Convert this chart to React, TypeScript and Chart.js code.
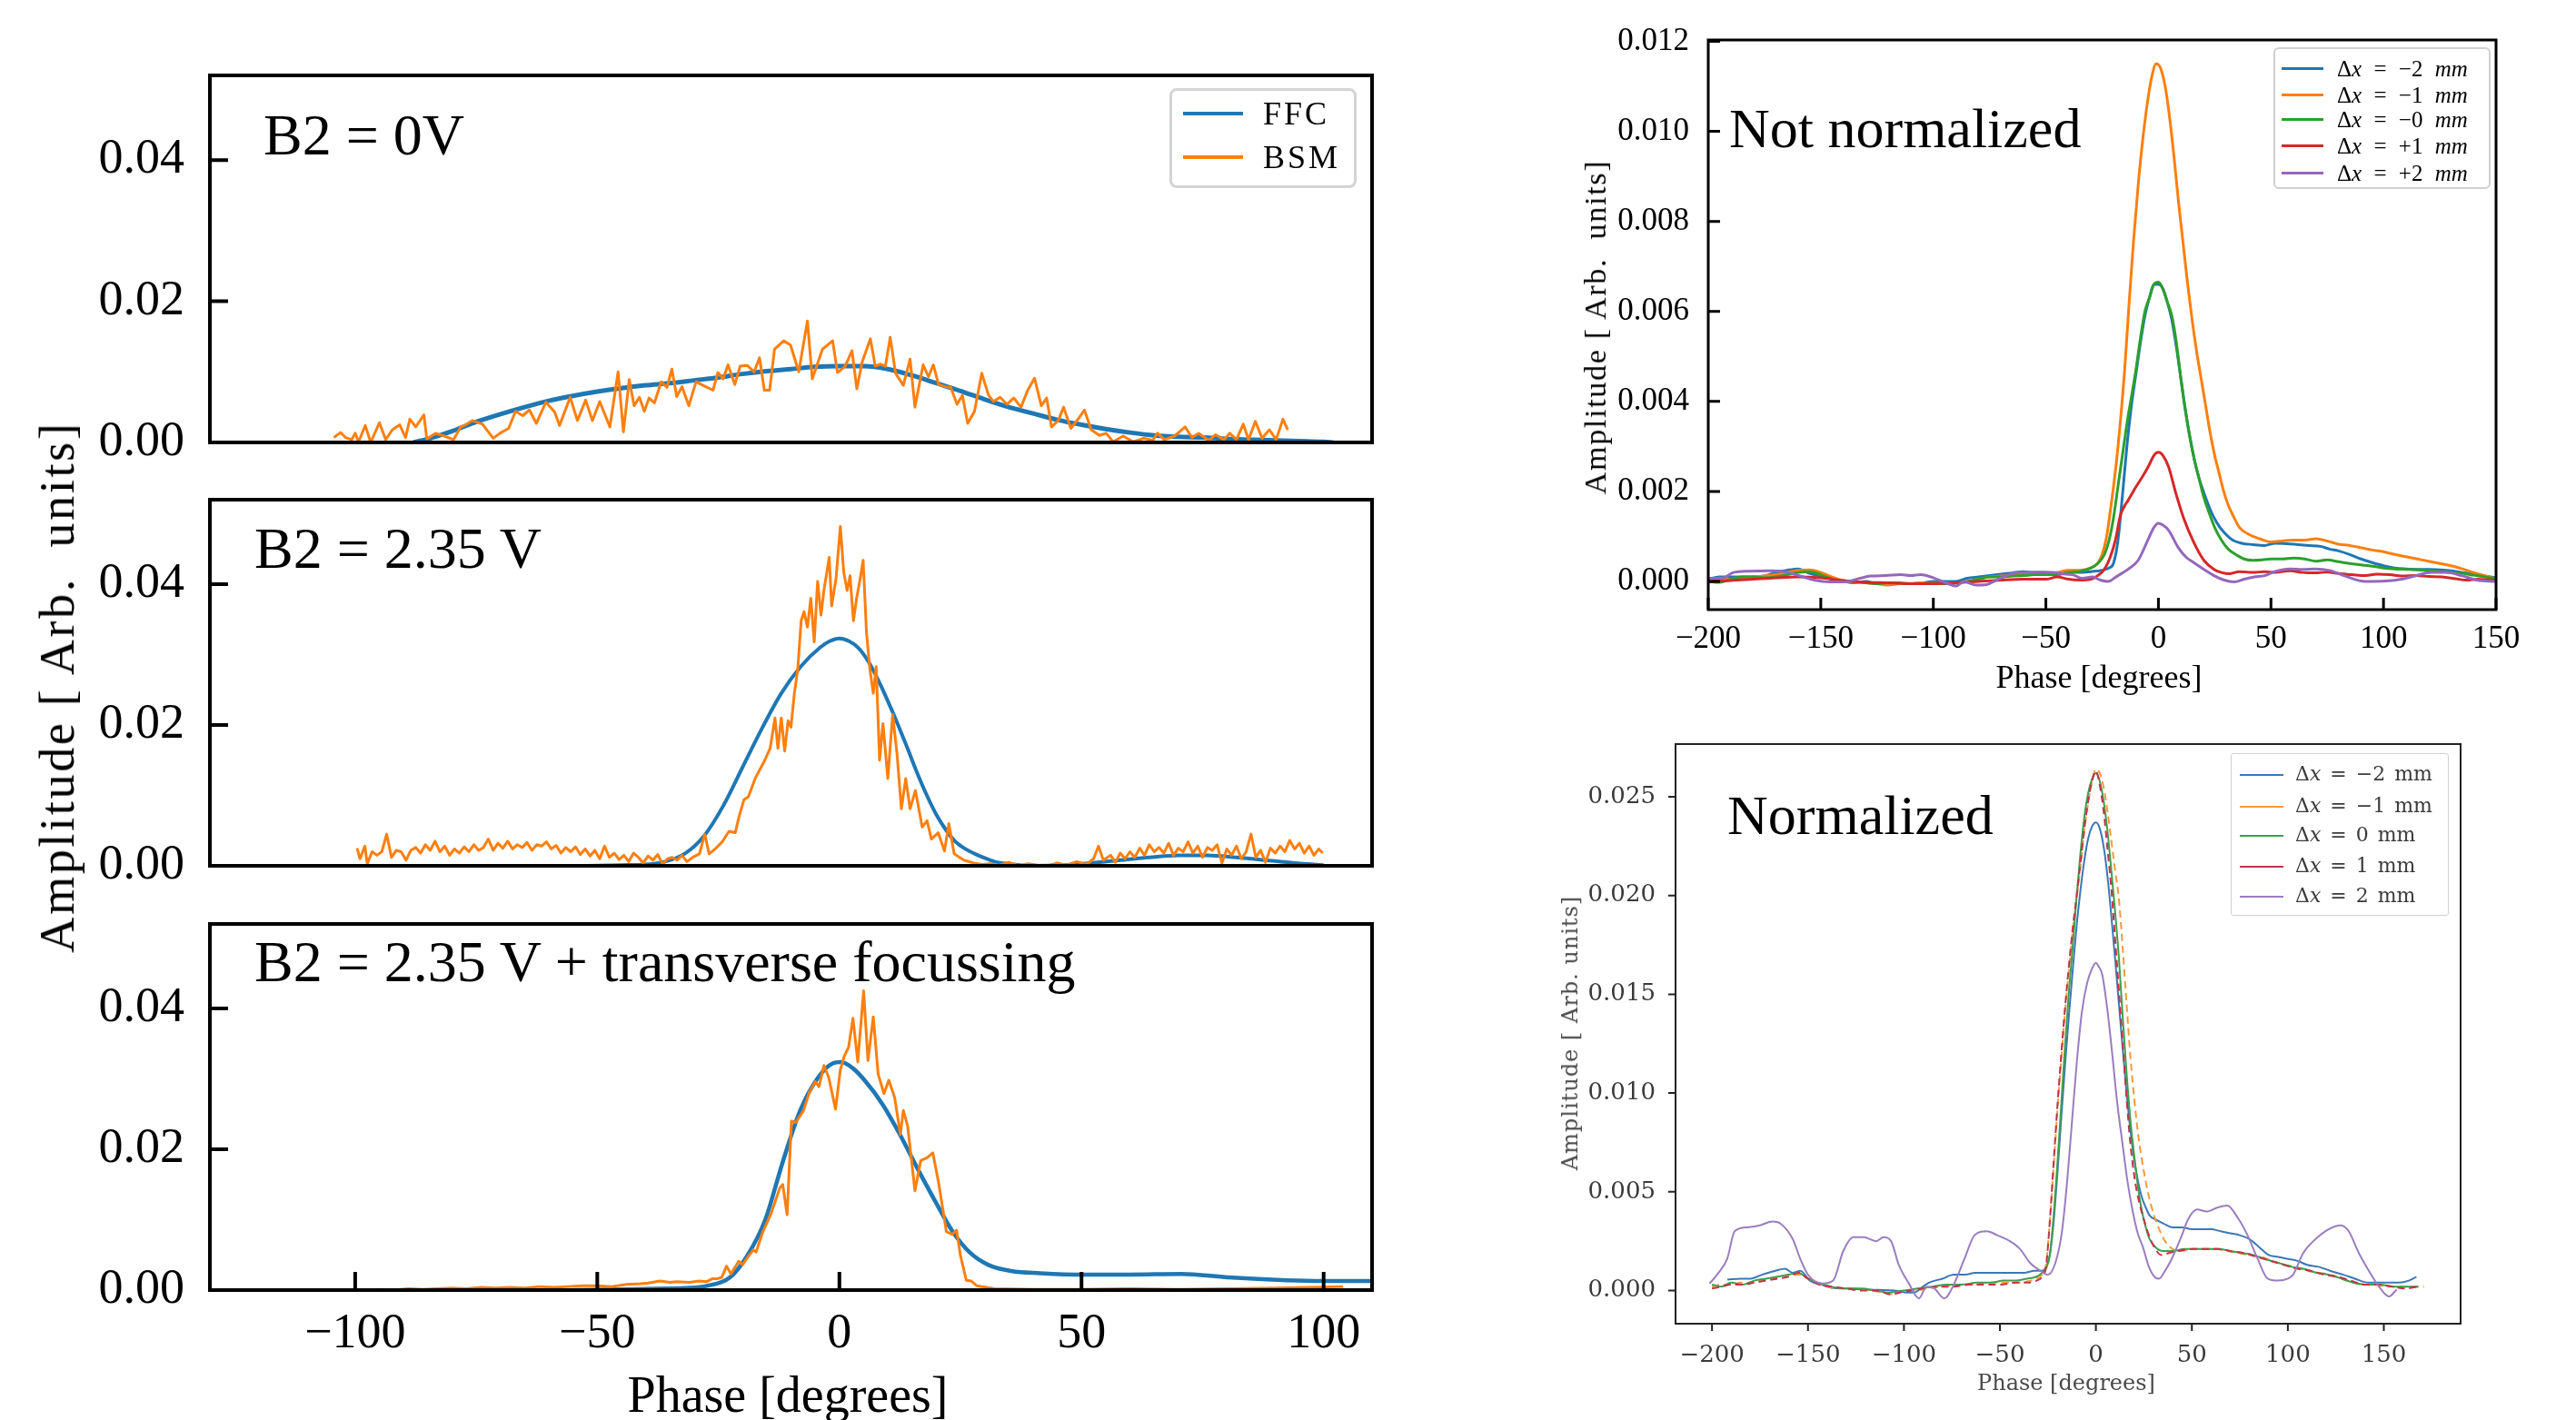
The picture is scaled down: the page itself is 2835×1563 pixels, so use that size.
import React, { useEffect, useRef } from 'react';
import { Chart, registerables } from 'chart.js';

Chart.register(...registerables);

type Pt = [number, number];

const SERIF = "'Liberation Serif', 'Times New Roman', serif";
const DSERIF = "'DejaVu Serif', serif";

// ---------------- Left stacked panels ----------------
const leftXTicks = [-100, -50, 0, 50, 100];
const leftYTicks = [0, 0.02, 0.04];
const leftLegend = ['FFC', 'BSM'];
const leftColors = ['#1f77b4', '#ff7f0e'];
const panelLabels = ['B2 = 0V', 'B2 = 2.35 V', 'B2 = 2.35 V + transverse focussing'];

const p1Ffc: Pt[] = [[-88,0],[-85,0.0005],[-80,0.0016],[-75,0.0029],[-70,0.004],[-65,0.005],[-60,0.0059],[-55,0.0066],[-50,0.0072],[-45,0.0077],[-40,0.0081],[-35,0.0084],[-30,0.0088],[-25,0.0092],[-20,0.0097],[-15,0.0101],[-10,0.0104],[-5,0.0107],[0,0.0108],[5,0.0108],[10,0.0104],[15,0.0095],[20,0.0084],[25,0.0073],[30,0.0061],[35,0.005],[40,0.0041],[45,0.0032],[50,0.0025],[55,0.0019],[60,0.0014],[65,0.001],[70,0.0008],[75,0.0007],[80,0.0005],[85,0.0004],[90,0.0003],[95,0.0002],[100,0.0001],[102,0]];

const p1Bsm: Pt[] = [[-104.4,0.0007],[-103,0.0014],[-102,0.0007],[-100.7,0.0004],[-100,0.0013],[-99.3,0.0001],[-97.9,0.0024],[-96.8,0],[-95,0.0028],[-93.7,0.0004],[-92.3,0.0018],[-90.8,0.0025],[-89.6,0.0007],[-88.7,0.0033],[-87.5,0.0022],[-85.8,0.0039],[-85.2,0.0005],[-83.4,0.0013],[-81.6,0.0009],[-79.7,0.0004],[-78.2,0.0022],[-77.2,0.0025],[-75.8,0.0031],[-73.7,0.0026],[-71.5,0.0006],[-70.1,0.0013],[-68.3,0.002],[-66.9,0.0044],[-65.4,0.0038],[-64,0.0046],[-62.6,0.0027],[-60.6,0.0057],[-58.8,0.0043],[-57.8,0.0024],[-55.6,0.0064],[-54.1,0.0031],[-52.4,0.006],[-51,0.0031],[-49.5,0.0058],[-47.4,0.0022],[-45.7,0.01],[-44.6,0.0015],[-43.4,0.0089],[-42.4,0.0052],[-41.3,0.0064],[-40.3,0.0044],[-39.3,0.0063],[-38.2,0.0056],[-36.8,0.0086],[-35.6,0.0078],[-34.6,0.0104],[-33.6,0.0065],[-32.5,0.0079],[-31.1,0.0052],[-29.6,0.0086],[-27.9,0.008],[-26.1,0.0074],[-25.1,0.0099],[-24,0.009],[-23,0.011],[-21.6,0.0082],[-20.5,0.0108],[-19,0.0109],[-17.6,0.01],[-16.5,0.012],[-15.5,0.0074],[-14.4,0.0074],[-13.4,0.0132],[-11.5,0.0144],[-10.1,0.0138],[-8.4,0.01],[-6.6,0.0172],[-5.6,0.009],[-3.5,0.0132],[-1.4,0.0144],[-0.4,0.0099],[1.2,0.0108],[2.6,0.013],[3.6,0.0076],[4.7,0.0114],[6.4,0.0147],[7.4,0.0108],[8.5,0.0111],[9.5,0.0108],[10.5,0.0149],[11.6,0.0098],[13.2,0.0081],[14.6,0.0118],[15.6,0.005],[17.3,0.011],[18.4,0.0093],[19.4,0.011],[20.5,0.0082],[21.9,0.0079],[23,0.0078],[24.3,0.0054],[25.4,0.0067],[26.5,0.0027],[27.9,0.0044],[29.4,0.0098],[30.8,0.0067],[31.8,0.0058],[33.2,0.0064],[34.6,0.0054],[36,0.0063],[37.5,0.005],[38.9,0.0074],[40.3,0.0091],[41.7,0.0052],[42.8,0.0063],[43.8,0.0022],[45.2,0.0031],[46.3,0.005],[47.8,0.002],[49.5,0.0035],[50.6,0.0046],[52,0.0018],[53.7,0.001],[55.1,0.0013],[56.5,0.0001],[58.6,0.0009],[60.7,0.0001],[62.9,0.0006],[64.7,0.0003],[65.7,0.0013],[67.1,0.0004],[69.2,0.0009],[71.4,0.0022],[72.8,0.0007],[74.2,0.0013],[76.3,0.0003],[77.7,0.0011],[79.4,0.0004],[80.6,0.0013],[82,0.0004],[83.4,0.0026],[84.5,0.0004],[85.9,0.003],[87.3,0.0006],[88.8,0.0018],[90.2,0.0004],[91.6,0.0033],[92.6,0.0018]];

const p2Ffc: Pt[] = [[-52,0],[-45,0.0001],[-40,0.0002],[-36,0.0006],[-32,0.0017],[-28,0.0042],[-24,0.0085],[-20,0.014],[-16,0.0195],[-12,0.0245],[-8,0.0283],[-4,0.031],[-2,0.0319],[0,0.0323],[2,0.0319],[4,0.0309],[6,0.029],[8,0.0264],[10,0.0234],[12,0.0202],[14,0.0168],[16,0.0133],[18,0.0101],[20,0.0073],[22,0.0051],[24,0.0034],[26,0.0024],[28,0.0017],[30,0.0011],[32,0.0006],[36,0.0002],[40,0],[46,0.0001],[52,0.0004],[58,0.0008],[64,0.0012],[70,0.0015],[76,0.0015],[82,0.0012],[88,0.0008],[94,0.0004],[100,0.0001]];

const p2Bsm: Pt[] = [[-99.6,0.0025],[-99,0.001],[-98,0.0028],[-97.5,0.0003],[-96.5,0.002],[-95.5,0.0015],[-94.5,0.002],[-93.5,0.0045],[-92.5,0.0012],[-91.5,0.0022],[-90.5,0.002],[-89.5,0.0008],[-88.5,0.0022],[-87.5,0.0026],[-86.5,0.0018],[-85.5,0.003],[-84.5,0.0022],[-83.5,0.0035],[-82.5,0.002],[-81.5,0.0028],[-80.5,0.0015],[-79.5,0.0024],[-78.5,0.0018],[-77.5,0.0027],[-76.5,0.002],[-75.5,0.003],[-74.5,0.0022],[-73.5,0.0026],[-72.5,0.0038],[-71.5,0.0022],[-70.5,0.0032],[-69.5,0.0025],[-68.5,0.0035],[-67.5,0.0024],[-66.5,0.003],[-65.5,0.0026],[-64.5,0.0033],[-63.5,0.0022],[-62.5,0.003],[-61.5,0.0028],[-60.5,0.0034],[-59.5,0.0024],[-58.5,0.0029],[-57.5,0.0018],[-56.5,0.0026],[-55.5,0.002],[-54.5,0.0027],[-53.5,0.0016],[-52.5,0.0024],[-51.5,0.0014],[-50.5,0.0022],[-49.5,0.001],[-48.5,0.0028],[-47.5,0.0012],[-46.5,0.0018],[-45.5,0.0009],[-44.5,0.0015],[-43.5,0.0006],[-42.5,0.0018],[-41.5,0.0012],[-40.5,0.0004],[-39.5,0.0014],[-38.5,0.0008],[-37.5,0.0016],[-36.5,0.0002],[-35.5,0.001],[-34.5,0.0012],[-33.5,0.0008],[-32.5,0.0015],[-31.5,0.0006],[-30.3,0.0012],[-28.9,0.0017],[-27.8,0.0045],[-26.9,0.0017],[-25.5,0.0025],[-24.2,0.0034],[-22.8,0.0049],[-21.5,0.0047],[-20.8,0.0068],[-19.7,0.0094],[-18.8,0.0098],[-17.4,0.0124],[-16.4,0.0137],[-15.4,0.015],[-14.3,0.0167],[-13.3,0.021],[-12.7,0.0167],[-12,0.021],[-11.3,0.0163],[-10.6,0.0206],[-10,0.0197],[-9.3,0.0245],[-8.6,0.0279],[-7.9,0.0348],[-7.3,0.0361],[-6.6,0.0339],[-5.9,0.038],[-5.2,0.0318],[-4.5,0.0404],[-3.8,0.0356],[-3.2,0.0391],[-2.1,0.0438],[-1.6,0.0369],[-0.7,0.0408],[0.2,0.0482],[0.9,0.0417],[1.6,0.0391],[2.2,0.0412],[2.9,0.0348],[3.6,0.0382],[4.2,0.0404],[4.9,0.0434],[5.6,0.0331],[6.3,0.0279],[7,0.0245],[7.6,0.0283],[8.3,0.015],[9,0.0202],[10,0.0124],[11,0.0215],[11.9,0.0159],[12.8,0.0081],[13.7,0.0124],[14.6,0.0081],[15.7,0.0107],[17.1,0.0055],[18.1,0.0064],[19,0.0038],[20.4,0.0047],[21.7,0.0021],[22.6,0.006],[23.7,0.0017],[25.7,0.0008],[27.7,0.0004],[29.5,0.0002],[31,0.0003],[33,0.0001],[35,0.0005],[37,0],[39,0.0003],[41,0.0001],[43,0],[45,0.0004],[47,0.0001],[49,0.0006],[51,0.0002],[52.5,0.001],[53.5,0.0028],[54.5,0.0008],[56,0.0015],[57,0.0005],[58,0.0018],[59,0.001],[60,0.002],[61,0.0012],[62,0.0025],[63,0.0015],[64,0.003],[65,0.002],[66,0.0026],[67,0.0018],[68,0.0032],[69,0.0015],[70,0.0025],[71,0.002],[72,0.0034],[73,0.0018],[74,0.0028],[75,0.0012],[76,0.0026],[77,0.0022],[78,0.003],[79,0.0004],[80,0.0024],[81,0.0015],[82,0.0028],[83,0.001],[84,0.002],[85,0.0045],[86,0.0012],[87,0.0022],[88,0.0005],[89,0.0025],[90,0.0018],[91,0.0028],[92,0.002],[93,0.0036],[94,0.0024],[95,0.0032],[96,0.0018],[97,0.0028],[98,0.0015],[99,0.0024],[99.8,0.0018]];

const p3Ffc: Pt[] = [[-55,0],[-45,0.0001],[-38,0.0002],[-32,0.0003],[-27.4,0.0006],[-22.6,0.0018],[-19,0.0049],[-15.3,0.01],[-11.7,0.0182],[-8.1,0.0255],[-4.4,0.0302],[-1.4,0.0322],[0.4,0.0324],[2.8,0.0315],[5.2,0.0298],[8.9,0.0264],[12.5,0.0221],[16.1,0.0173],[19.8,0.0126],[23.4,0.0083],[27,0.0053],[30.7,0.0036],[35.5,0.0027],[41.5,0.0024],[50.3,0.0022],[59.7,0.0022],[70.6,0.0023],[80.3,0.0018],[92.4,0.0014],[100,0.0013],[110,0.0013]];

const p3Bsm: Pt[] = [[-95,0.0001],[-92,0],[-89,0.0002],[-86,0.0001],[-83,0.0002],[-80,0.0003],[-77,0.0002],[-74,0.0004],[-71,0.0003],[-68,0.0004],[-65,0.0003],[-62,0.0005],[-59,0.0004],[-56,0.0005],[-53,0.0006],[-50,0.0006],[-47,0.0005],[-44,0.0008],[-41,0.0009],[-39.5,0.001],[-37,0.0013],[-35,0.0011],[-33.6,0.0012],[-31,0.0011],[-29,0.0013],[-27.4,0.0012],[-26.3,0.0016],[-25.3,0.0016],[-24.3,0.0018],[-23.3,0.0034],[-22.4,0.0023],[-20.8,0.0041],[-20,0.0036],[-19,0.0046],[-17.8,0.0057],[-17.2,0.0054],[-15.9,0.0081],[-14.1,0.0109],[-12.3,0.0145],[-11.7,0.015],[-10.8,0.0107],[-9.9,0.024],[-9,0.0238],[-7.4,0.0255],[-6.2,0.0281],[-5,0.0296],[-4.2,0.0289],[-3.2,0.0319],[-2.2,0.0302],[-0.8,0.0257],[0.2,0.0313],[1,0.0332],[1.9,0.0345],[2.8,0.0386],[3.8,0.0324],[5,0.0425],[5.9,0.0326],[7,0.0388],[8,0.0307],[9.2,0.0279],[10.2,0.0298],[11.4,0.0274],[12.6,0.0221],[13.2,0.0255],[14.1,0.0233],[15.6,0.0141],[16.8,0.0184],[18.1,0.0188],[19.3,0.0195],[20.5,0.0152],[22.1,0.0083],[23.3,0.0079],[24.2,0.0085],[25,0.0049],[26.2,0.0014],[27.2,0.0013],[28.4,0.0006],[32,0.0002],[40,0.0001],[50,0.0001],[60,0.0002],[70,0.0001],[80,0.0002],[90,0.0003],[97,0.0004],[104,0.0005]];

// ---------------- Top right: not normalized ----------------
const nnXTicks = [-200, -150, -100, -50, 0, 50, 100, 150];
const nnYTicks = [0, 0.002, 0.004, 0.006, 0.008, 0.01, 0.012];
const nnLegend = ['\u22122', '\u22121', '\u22120', '+1', '+2'];
const nnColors = ['#1f77b4', '#ff7f0e', '#2ca02c', '#d62728', '#9467bd'];

const nnM2: Pt[] = [[-200,0.00005],[-195,0.0001],[-190,0.0001],[-185,0.0001],[-180,0.0001],[-175,0.00012],[-170,0.0002],[-165,0.00025],[-160,0.00028],[-155,0.00018],[-150,0.00012],[-145,0.00005],[-140,0],[-135,-0.00003],[-130,0],[-125,-0.00005],[-120,-0.00005],[-115,-0.00005],[-110,-0.00005],[-105,-0.00003],[-100,0],[-95,0],[-90,0],[-85,0.00007],[-80,0.0001],[-75,0.00013],[-70,0.00016],[-65,0.00019],[-60,0.00022],[-55,0.0002],[-50,0.0002],[-45,0.00018],[-40,0.0002],[-35,0.0002],[-30,0.00022],[-25,0.00025],[-22,0.0003],[-20,0.0004],[-18,0.0009],[-16,0.0019],[-14,0.003],[-12,0.0039],[-10,0.0046],[-8,0.0053],[-6,0.0059],[-4,0.0063],[-2,0.0066],[0,0.0066],[2,0.0065],[4,0.0062],[6,0.0058],[8,0.0052],[10,0.0045],[12,0.0038],[14,0.0032],[16,0.0027],[18,0.0023],[20,0.002],[23,0.0016],[26,0.0013],[29,0.0011],[33,0.00092],[37,0.00085],[42,0.00082],[47,0.0008],[52,0.00085],[57,0.00084],[62,0.00082],[67,0.0008],[72,0.00078],[76,0.00072],[80,0.00068],[85,0.0006],[90,0.0005],[95,0.00042],[100,0.00035],[105,0.0003],[110,0.00028],[115,0.00027],[120,0.00027],[125,0.00026],[130,0.00024],[135,0.0002],[140,0.00016],[145,0.00012],[150,0.00008]];

const nnM1: Pt[] = [[-200,0],[-195,0.00003],[-190,0.00005],[-185,0.00008],[-180,0.0001],[-175,0.00012],[-170,0.00015],[-165,0.0002],[-160,0.00025],[-155,0.00026],[-150,0.0002],[-145,0.0001],[-140,0.00002],[-135,-0.00002],[-130,-0.00003],[-125,-0.00005],[-120,-0.00008],[-115,-0.00005],[-110,-0.00005],[-105,-0.00003],[-100,-0.00005],[-95,-0.00003],[-90,-0.00003],[-85,0],[-80,0.00005],[-75,0.0001],[-70,0.00012],[-65,0.00013],[-60,0.00015],[-55,0.00015],[-50,0.00018],[-45,0.0002],[-40,0.00025],[-35,0.00025],[-30,0.0003],[-27,0.0004],[-25,0.0006],[-23,0.001],[-21,0.0017],[-19,0.0025],[-17,0.0035],[-15,0.0047],[-13,0.0062],[-11,0.0076],[-9,0.0088],[-7,0.0098],[-5,0.0106],[-3,0.0112],[-1,0.0115],[0,0.01148],[1,0.0114],[3,0.011],[5,0.0103],[7,0.0094],[9,0.0084],[11,0.0075],[13,0.0066],[15,0.0058],[17,0.0051],[19,0.0045],[21,0.0039],[23,0.0033],[25,0.0028],[27,0.0024],[29,0.002],[31,0.0017],[33,0.00148],[36,0.0012],[40,0.00105],[45,0.00095],[50,0.00088],[55,0.0009],[60,0.00092],[65,0.00092],[70,0.00095],[75,0.0009],[80,0.00083],[85,0.0008],[90,0.00075],[95,0.0007],[100,0.00066],[105,0.0006],[110,0.00055],[115,0.0005],[120,0.00045],[125,0.0004],[130,0.00035],[135,0.00028],[140,0.0002],[145,0.00013],[150,0.00005]];

const nnZ0: Pt[] = [[-200,0],[-195,-0.00002],[-190,0.00005],[-185,0.0001],[-180,0.0001],[-175,0.00008],[-170,0.0001],[-165,0.00015],[-160,0.0002],[-155,0.00022],[-150,0.00015],[-145,0.00005],[-140,0],[-135,0],[-130,-0.00003],[-125,-0.00005],[-120,-0.00003],[-115,-0.00003],[-110,-0.00005],[-105,-0.00005],[-100,-0.00003],[-95,-0.00005],[-90,-0.00003],[-85,0],[-80,0.00005],[-75,0.0001],[-70,0.0001],[-65,0.00012],[-60,0.00013],[-55,0.00015],[-50,0.00015],[-45,0.00015],[-40,0.0002],[-35,0.00022],[-30,0.0003],[-27,0.0004],[-24,0.0006],[-22,0.0009],[-20,0.0014],[-18,0.0021],[-16,0.0028],[-14,0.0035],[-12,0.0041],[-10,0.0047],[-8,0.0054],[-6,0.006],[-4,0.0063],[-2,0.0066],[0,0.00665],[2,0.0065],[4,0.0062],[6,0.0059],[8,0.0053],[10,0.0045],[12,0.0038],[14,0.0032],[16,0.0027],[18,0.0023],[20,0.0019],[22,0.0016],[25,0.0012],[28,0.00092],[31,0.00072],[35,0.00058],[38,0.0005],[42,0.00047],[46,0.00048],[50,0.0005],[55,0.0005],[60,0.00052],[65,0.0005],[70,0.00045],[75,0.00048],[80,0.00044],[85,0.0004],[90,0.00037],[95,0.00034],[100,0.0003],[105,0.00028],[110,0.00027],[115,0.00026],[120,0.00024],[125,0.00022],[130,0.0002],[135,0.00018],[140,0.00014],[145,0.0001],[150,0.00006]];

const nnP1: Pt[] = [[-200,0],[-190,0.00002],[-180,0.00005],[-170,0.00008],[-160,0.0001],[-150,0.00008],[-140,0.00002],[-130,-0.00002],[-120,-0.00003],[-110,-0.00005],[-100,-0.00005],[-90,-0.00003],[-80,0],[-70,0.00003],[-60,0.00005],[-50,0.00005],[-45,0.0001],[-40,0.00005],[-35,0.00003],[-30,0.00005],[-27,0.00013],[-24,0.00027],[-21.4,0.00054],[-19,0.00094],[-17,0.00145],[-15,0.00168],[-13.5,0.0018],[-10,0.0021],[-6.8,0.00235],[-4,0.0026],[-2,0.0028],[0,0.00287],[2,0.0028],[4.5,0.00255],[7.8,0.00195],[11.2,0.00141],[15.7,0.00087],[20.2,0.00047],[24.7,0.00027],[28,0.0002],[31.4,0.00017],[35.9,0.00022],[42,0.0002],[47.2,0.00022],[52,0.0002],[58.4,0.00024],[64,0.0002],[69.6,0.00019],[75,0.00021],[80.9,0.00017],[86,0.00015],[92,0.00013],[97,0.00016],[103,0.00015],[108,0.00012],[114.5,0.00013],[120,0.00011],[126,0.0001],[132,0.00006],[137,0.00003],[142,0.00005],[148,0.00003],[150,0.00003]];

const nnP2: Pt[] = [[-200,0.00007],[-193.3,0.00008],[-188.8,0.0002],[-182,0.00023],[-173,0.00024],[-166.3,0.00022],[-159.6,0.00013],[-152.9,0.00003],[-146,-0.00001],[-139.3,-0.00001],[-132.6,0.00007],[-128,0.00012],[-121.3,0.00013],[-114.6,0.00015],[-110,0.00013],[-105.6,0.00015],[-101,0.0001],[-94.4,-0.00003],[-89.9,-0.0001],[-86.5,0],[-80.9,-0.00008],[-76.4,-0.00007],[-72,0.00003],[-67.5,0.00013],[-63,0.00019],[-54,0.0002],[-47.2,0.0002],[-42.7,0.00017],[-38.2,0.00015],[-33.7,0.00007],[-29.2,0.0001],[-25.8,0.00003],[-22.5,0],[-18,0.00013],[-13.5,0.00027],[-9,0.00047],[-4.5,0.00094],[-2,0.0012],[0,0.00129],[2,0.00125],[4.5,0.00114],[9,0.00074],[12.3,0.00054],[15.7,0.00042],[20.2,0.00027],[24.7,0.00013],[29.2,0.00003],[33.7,-0.00001],[38.1,0.00005],[42.6,0.0001],[47.2,0.00013],[51.6,0.00022],[58.4,0.00028],[64,0.00027],[69.6,0.00028],[76.4,0.00024],[83,0.00012],[92,0],[101,0.00001],[108,0.00005],[114.5,0.00013],[121,0.0002],[128,0.0002],[134.7,0.00013],[141.5,0.00003],[150,0]];

// ---------------- Bottom right: normalized ----------------
const nXTicks = [-200, -150, -100, -50, 0, 50, 100, 150];
const nYTicks = [0, 0.005, 0.01, 0.015, 0.02, 0.025];
const nLegend = ['\u22122', '\u22121', '0', '1', '2'];
const nColors = ['#3b78b5', '#f39b3c', '#3f9e4c', '#c2334a', '#9a7dbf'];

const nM2: Pt[] = [[-192,0.00055],[-185,0.0006],[-180,0.0006],[-174,0.0008],[-167,0.001],[-162,0.0011],[-158,0.0009],[-154,0.001],[-149,0.0005],[-143,0.0003],[-137,0.00012],[-130,0.0001],[-121,0.00005],[-113,0.00003],[-105,0],[-99,-0.0001],[-95,-0.0001],[-90,0.0002],[-87,0.0004],[-80,0.0006],[-74,0.0008],[-68,0.0008],[-63,0.0009],[-57,0.0009],[-50,0.0009],[-44,0.0009],[-37,0.0009],[-32,0.001],[-28,0.001],[-26,0.0012],[-24,0.0018],[-22,0.0035],[-20,0.006],[-18,0.0088],[-16,0.0115],[-14,0.014],[-12,0.0163],[-10,0.0185],[-8,0.0203],[-6,0.0218],[-4,0.0229],[-2,0.0235],[0,0.0237],[2,0.0234],[4,0.0225],[6,0.021],[8,0.019],[10,0.0168],[12,0.0145],[14,0.0122],[16,0.01],[18,0.0081],[20,0.0066],[22,0.0055],[24,0.0047],[26,0.0042],[28,0.0038],[31,0.0036],[35,0.0034],[40,0.0032],[45,0.0032],[50,0.0031],[55,0.0031],[60,0.0031],[65,0.003],[70,0.0029],[75,0.0028],[80,0.0026],[85,0.0022],[90,0.0018],[95,0.0017],[100,0.0016],[105,0.0015],[110,0.0013],[116,0.0012],[122,0.001],[129,0.0008],[135,0.0006],[142,0.0004],[148,0.0004],[153,0.0004],[158,0.0004],[163,0.0005],[167,0.0007]];

const nM1: Pt[] = [[-200,0.0002],[-195,0.0003],[-190,0.0003],[-185,0.0004],[-180,0.0004],[-175,0.0005],[-170,0.0006],[-165,0.0007],[-160,0.0008],[-155,0.0008],[-150,0.0006],[-145,0.0004],[-140,0.0002],[-133,0.0001],[-125,0.0001],[-118,0],[-110,-0.0001],[-105,-0.0002],[-100,0],[-94,0],[-88,0.0001],[-80,0.0002],[-72,0.0003],[-64,0.0003],[-56,0.0004],[-48,0.0004],[-40,0.0004],[-34,0.0005],[-31,0.0006],[-28,0.0008],[-26,0.0013],[-24,0.0035],[-22,0.0063],[-20,0.0092],[-18,0.0118],[-16,0.0142],[-14,0.0163],[-12,0.0183],[-10,0.0199],[-8,0.0215],[-6,0.0233],[-4,0.0247],[-2,0.0258],[0,0.0264],[2,0.0262],[4,0.0255],[6,0.0243],[8,0.0228],[10,0.0213],[12,0.0198],[14,0.0173],[16,0.0145],[18,0.0118],[20,0.0097],[22,0.0079],[24,0.0066],[26,0.0055],[28,0.0046],[30,0.0039],[33,0.0031],[36,0.0025],[40,0.0021],[45,0.002],[50,0.0021],[56,0.0021],[62,0.0021],[68,0.002],[74,0.0019],[80,0.0018],[86,0.0017],[92,0.0015],[98,0.0013],[104,0.0012],[110,0.001],[116,0.0009],[122,0.0008],[128,0.0006],[134,0.0004],[140,0.0003],[146,0.0003],[152,0.0002],[158,0.0002],[164,0.0002],[171,0.0002]];

const nZ0: Pt[] = [[-200,0.0003],[-195,0.0002],[-190,0.0004],[-184,0.0003],[-178,0.0005],[-172,0.0006],[-166,0.0007],[-160,0.0008],[-155,0.0009],[-150,0.0006],[-145,0.0004],[-138,0.0002],[-130,0.0001],[-122,0.0001],[-115,0],[-108,-0.0001],[-100,0],[-93,0.0001],[-85,0.0002],[-78,0.0003],[-70,0.0003],[-62,0.0004],[-55,0.0004],[-48,0.0005],[-42,0.0005],[-36,0.0006],[-31,0.0007],[-28,0.0009],[-26,0.0011],[-24,0.0018],[-22,0.0038],[-20,0.0065],[-18,0.0095],[-16,0.0125],[-14,0.0152],[-12,0.0175],[-10,0.02],[-8,0.0222],[-6,0.024],[-4,0.0252],[-2,0.0259],[0,0.0262],[2,0.0258],[4,0.0248],[6,0.0233],[8,0.0213],[10,0.0192],[12,0.0168],[14,0.0138],[16,0.011],[18,0.0086],[20,0.0068],[22,0.0052],[24,0.004],[26,0.0032],[28,0.0026],[31,0.0022],[35,0.002],[40,0.002],[46,0.0021],[52,0.0021],[58,0.0021],[64,0.0021],[70,0.002],[76,0.0019],[82,0.0018],[88,0.0016],[95,0.0014],[102,0.0012],[108,0.0011],[115,0.0009],[121,0.0008],[128,0.0006],[134,0.0004],[141,0.0003],[148,0.0003],[155,0.0002],[162,0.0002],[168,0.0002]];

const nP1: Pt[] = [[-200,0.0001],[-195,0.0002],[-190,0.0003],[-184,0.0003],[-178,0.0004],[-172,0.0005],[-166,0.0006],[-160,0.0007],[-155,0.0009],[-150,0.0006],[-144,0.0003],[-138,0.0002],[-130,0.0001],[-122,0],[-114,0],[-107,-0.0002],[-102,-0.0001],[-96,0],[-90,0.0001],[-82,0.0002],[-74,0.0002],[-66,0.0003],[-58,0.0003],[-50,0.0003],[-42,0.0004],[-36,0.0004],[-31,0.0005],[-28,0.0007],[-26,0.0012],[-24,0.0035],[-22,0.0065],[-20,0.0094],[-18,0.012],[-16,0.0144],[-14,0.0165],[-12,0.0184],[-10,0.02],[-8,0.0217],[-6,0.0234],[-4,0.0248],[-2,0.0258],[0,0.0263],[2,0.0256],[4,0.0243],[6,0.0224],[8,0.0204],[10,0.0178],[12,0.0152],[14,0.0125],[16,0.0097],[18,0.0074],[20,0.0058],[22,0.0047],[25,0.0036],[28,0.0027],[31,0.0021],[34,0.0018],[38,0.0019],[43,0.002],[50,0.0021],[57,0.0021],[64,0.0021],[70,0.002],[77,0.0019],[84,0.0017],[91,0.0015],[98,0.0013],[105,0.0011],[112,0.001],[119,0.0008],[126,0.0007],[133,0.0005],[140,0.0003],[147,0.0003],[154,0.0002],[161,0.0001],[168,0.0002]];

const nP2: Pt[] = [[-201.3,0.00035],[-197.4,0.0008],[-192.1,0.0016],[-188.2,0.003],[-181.6,0.0032],[-175,0.0033],[-168.5,0.0035],[-164.5,0.0034],[-157.9,0.0026],[-154,0.0016],[-150,0.0008],[-142.2,0.00035],[-136.9,0.0005],[-131.6,0.002],[-126.4,0.0027],[-121.1,0.0027],[-114.5,0.0025],[-110.6,0.0027],[-106.7,0.0025],[-102.7,0.0013],[-97.4,0.00035],[-92.2,-0.0004],[-88.2,0.0002],[-84.3,0.00012],[-79,-0.0004],[-73.8,0.00035],[-68.5,0.0016],[-63.2,0.0028],[-56.7,0.003],[-51.4,0.0028],[-44.8,0.0025],[-39.5,0.0021],[-34.3,0.0014],[-29,0.001],[-25,0.0008],[-21.1,0.0014],[-17.8,0.0029],[-15,0.0055],[-12.5,0.0085],[-10,0.0115],[-7.3,0.0141],[-4.5,0.0156],[-2,0.0163],[0,0.0166],[1.5,0.0164],[3.3,0.016],[6,0.0142],[8.6,0.0119],[11,0.0096],[13.9,0.0074],[16.5,0.0055],[19.2,0.004],[21.8,0.0029],[24.5,0.0022],[27.6,0.0012],[30.5,0.0007],[32.9,0.0006],[36,0.001],[39.5,0.0016],[44.8,0.0028],[48,0.0036],[52.7,0.0041],[58,0.004],[63.2,0.0042],[68.5,0.0043],[73.8,0.0037],[79,0.0028],[84.3,0.0016],[89.5,0.0006],[94.8,0.0005],[100,0.0006],[102.7,0.0008],[108,0.0019],[113.3,0.0025],[121.2,0.0031],[127.7,0.0033],[131.7,0.003],[137,0.0019],[142.2,0.001],[147.5,0.0002],[152.7,-0.0003],[156.7,0.00005]];

// ---------------- chart machinery ----------------
interface DS { data: Pt[]; color: string; width: number; dash?: number[]; smooth?: boolean; }
interface Spec {
  area: { l: number; t: number; r: number; b: number };
  m: { l: number; t: number; r: number; b: number };
  xr: [number, number]; yr: [number, number];
  xTicks: number[]; yTicks: number[]; yDec: number;
  showXLabels: boolean; showXTicks: boolean;
  tickDir: 'in' | 'out'; tickLen: number; tickWidth: number; frameWidth: number; frameColor: string;
  family: string; size: number; color: string; xPad: number; yPad: number;
  datasets: DS[];
}

const fmtX = (v: number) => (v < 0 ? '\u2212' + Math.abs(v) : String(v));

function framePlugin(s: Spec) {
  return {
    id: 'frameTicks',
    afterDraw(chart: any) {
      const { ctx, chartArea: a, scales } = chart;
      ctx.save();
      ctx.strokeStyle = s.frameColor;
      ctx.lineCap = 'butt';
      const d = s.tickDir === 'in' ? 1 : -1;
      ctx.lineWidth = s.tickWidth;
      ctx.beginPath();
      for (const v of s.yTicks) {
        const y = scales.y.getPixelForValue(v);
        ctx.moveTo(a.left, y);
        ctx.lineTo(a.left + d * s.tickLen, y);
      }
      if (s.showXTicks) {
        for (const v of s.xTicks) {
          const x = scales.x.getPixelForValue(v);
          ctx.moveTo(x, a.bottom);
          ctx.lineTo(x, a.bottom - d * s.tickLen);
        }
      }
      ctx.stroke();
      ctx.lineWidth = s.frameWidth;
      ctx.strokeRect(a.left, a.top, a.right - a.left, a.bottom - a.top);
      ctx.restore();
    },
  };
}

function ChartBox({ spec }: { spec: Spec }) {
  const ref = useRef<HTMLCanvasElement>(null);
  const { area: A, m } = spec;
  const w = A.r - A.l + m.l + m.r;
  const h = A.b - A.t + m.t + m.b;
  useEffect(() => {
    if (!ref.current) return;
    const font = { family: spec.family, size: spec.size };
    const n = spec.datasets.length;
    const chart = new Chart(ref.current, {
      type: 'line',
      data: {
        datasets: spec.datasets.map((d, i) => ({
          data: d.data.map(([x, y]) => ({ x, y })),
          borderColor: d.color,
          borderWidth: d.width,
          borderDash: d.dash || [],
          pointRadius: 0,
          fill: false,
          tension: 0,
          order: n - i,
          cubicInterpolationMode: d.smooth ? 'monotone' : 'default',
          borderJoinStyle: 'round',
        })),
      },
      options: {
        responsive: false,
        maintainAspectRatio: false,
        animation: false,
        devicePixelRatio: 1,
        events: [],
        layout: { padding: { left: 0, top: m.t, right: m.r, bottom: 0 } },
        plugins: { legend: { display: false }, tooltip: { enabled: false }, title: { display: false } },
        scales: {
          x: {
            type: 'linear',
            min: spec.xr[0],
            max: spec.xr[1],
            grid: { display: false },
            border: { display: false },
            ticks: { display: spec.showXLabels, font, color: spec.color, padding: spec.xPad, maxRotation: 0, autoSkip: false, callback: (v: any) => fmtX(Number(v)) },
            afterBuildTicks: (sc: any) => { sc.ticks = spec.xTicks.map((v) => ({ value: v })); },
            afterFit: (sc: any) => { sc.height = m.b; },
          },
          y: {
            type: 'linear',
            min: spec.yr[0],
            max: spec.yr[1],
            grid: { display: false },
            border: { display: false },
            ticks: { font, color: spec.color, padding: spec.yPad, autoSkip: false, callback: (v: any) => Number(v).toFixed(spec.yDec) },
            afterBuildTicks: (sc: any) => { sc.ticks = spec.yTicks.map((v) => ({ value: v })); },
            afterFit: (sc: any) => { sc.width = m.l; },
          },
        },
      } as any,
      plugins: [framePlugin(spec)],
    });
    return () => chart.destroy();
  }, []);
  return (
    <canvas
      ref={ref}
      width={w}
      height={h}
      style={{ position: 'absolute', left: A.l - m.l, top: A.t - m.t, width: w, height: h }}
    />
  );
}

const leftBase = {
  m: { l: 140, t: 70, r: 30, b: 70 },
  xr: [-130, 110] as [number, number],
  yr: [0, 0.052] as [number, number],
  xTicks: leftXTicks, yTicks: leftYTicks, yDec: 2,
  tickDir: 'in' as const, tickLen: 20, tickWidth: 4, frameWidth: 4, frameColor: '#000',
  family: SERIF, size: 54, color: '#000', xPad: 8, yPad: 20,
};

const specs: Spec[] = [
  { ...leftBase, area: { l: 231, t: 83, r: 1510, b: 487 }, showXLabels: false, showXTicks: false,
    datasets: [{ data: p1Ffc, color: leftColors[0], width: 5, smooth: true }, { data: p1Bsm, color: leftColors[1], width: 3 }] },
  { ...leftBase, area: { l: 231, t: 550, r: 1510, b: 953 }, showXLabels: false, showXTicks: false,
    datasets: [{ data: p2Ffc, color: leftColors[0], width: 4, smooth: true }, { data: p2Bsm, color: leftColors[1], width: 3 }] },
  { ...leftBase, area: { l: 231, t: 1017, r: 1510, b: 1420 }, m: { l: 140, t: 70, r: 30, b: 100 }, showXLabels: true, showXTicks: true,
    datasets: [{ data: p3Ffc, color: leftColors[0], width: 4.5, smooth: true }, { data: p3Bsm, color: leftColors[1], width: 3 }] },
  {
    area: { l: 1880, t: 44, r: 2747, b: 671 }, m: { l: 120, t: 50, r: 50, b: 60 },
    xr: [-200, 150], yr: [-0.000625, 0.01203], xTicks: nnXTicks, yTicks: nnYTicks, yDec: 3,
    showXLabels: true, showXTicks: true, tickDir: 'in', tickLen: 13, tickWidth: 3, frameWidth: 3, frameColor: '#000',
    family: SERIF, size: 35, color: '#000', xPad: 4, yPad: 13,
    datasets: [nnM2, nnM1, nnZ0, nnP1, nnP2].map((d, i) => ({ data: d, color: nnColors[i], width: 3, smooth: true })),
  },
  {
    area: { l: 1844, t: 819, r: 2708, b: 1457 }, m: { l: 110, t: 50, r: 50, b: 60 },
    xr: [-219, 190], yr: [-0.00168, 0.02767], xTicks: nXTicks, yTicks: nYTicks, yDec: 3,
    showXLabels: true, showXTicks: true, tickDir: 'out', tickLen: 8, tickWidth: 2, frameWidth: 2, frameColor: '#222',
    family: DSERIF, size: 26, color: '#3a3a3a', xPad: 12, yPad: 14,
    datasets: [
      { data: nM2, color: nColors[0], width: 2, smooth: true },
      { data: nM1, color: nColors[1], width: 2, dash: [8, 5], smooth: true },
      { data: nZ0, color: nColors[2], width: 2, smooth: true },
      { data: nP1, color: nColors[3], width: 2, dash: [8, 5], smooth: true },
      { data: nP2, color: nColors[4], width: 2, smooth: true },
    ],
  },
];

const abs = (left: number, top: number, extra: React.CSSProperties = {}): React.CSSProperties => ({
  position: 'absolute', left, top, whiteSpace: 'pre', lineHeight: 1, ...extra,
});

function Centered({ x, y, rot, children, style }: { x: number; y: number; rot?: boolean; children: React.ReactNode; style: React.CSSProperties }) {
  return (
    <div style={{ position: 'absolute', left: x, top: y, whiteSpace: 'pre', lineHeight: 1,
      transform: `translate(-50%, -50%)${rot ? ' rotate(-90deg)' : ''}`, ...style }}>
      {children}
    </div>
  );
}

export default function App() {
  const nnRows = [21, 50, 77, 106, 136];
  const nRows = [23, 58, 90, 124, 157];
  return (
    <div style={{ position: 'absolute', left: 0, top: 0, width: 2835, height: 1563, background: '#fff', overflow: 'hidden' }}>
      {specs.map((s, i) => <ChartBox key={i} spec={s} />)}

      {/* panel annotations */}
      <div style={abs(290, 117, { fontFamily: SERIF, fontSize: 64 })}>{panelLabels[0]}</div>
      <div style={abs(280, 572, { fontFamily: SERIF, fontSize: 64 })}>{panelLabels[1]}</div>
      <div style={abs(280, 1027, { fontFamily: SERIF, fontSize: 64 })}>{panelLabels[2]}</div>

      {/* left legend */}
      <div style={{ position: 'absolute', left: 1287, top: 97, width: 200, height: 104, border: '3px solid #d4d4d4', borderRadius: 8, background: 'rgba(255,255,255,0.9)' }}>
        {leftLegend.map((t, i) => (
          <React.Fragment key={t}>
            <div style={{ position: 'absolute', left: 12, top: (i === 0 ? 25 : 73) - 2, width: 66, height: 4, background: leftColors[i] }} />
            <div style={abs(100, (i === 0 ? 25 : 73) - 18, { fontFamily: SERIF, fontSize: 36, letterSpacing: 3 })}>{t}</div>
          </React.Fragment>
        ))}
      </div>

      {/* left axis titles */}
      <Centered x={63} y={756} rot style={{ fontFamily: SERIF, fontSize: 54, letterSpacing: 2.7 }}>Amplitude [ Arb.  units]</Centered>
      <Centered x={867} y={1535} style={{ fontFamily: SERIF, fontSize: 56 }}>Phase [degrees]</Centered>

      {/* top-right */}
      <div style={abs(1903, 110, { fontFamily: SERIF, fontSize: 62 })}>Not normalized</div>
      <Centered x={1756} y={360} rot style={{ fontFamily: SERIF, fontSize: 34, letterSpacing: 1.7 }}>Amplitude [ Arb.  units]</Centered>
      <Centered x={2310} y={745} style={{ fontFamily: SERIF, fontSize: 36 }}>Phase [degrees]</Centered>
      <div style={{ position: 'absolute', left: 2502, top: 52, width: 235, height: 152, border: '2px solid #d0d0d0', borderRadius: 6, background: 'rgba(255,255,255,0.9)' }}>
        {nnLegend.map((t, i) => (
          <React.Fragment key={i}>
            <div style={{ position: 'absolute', left: 7, top: nnRows[i] - 1.5, width: 46, height: 3, background: nnColors[i] }} />
            <div style={abs(68, nnRows[i] - 12, { fontFamily: SERIF, fontSize: 25, wordSpacing: 7 })}>
              {'\u0394'}<i>x</i>{' = ' + t + ' '}<i>mm</i>
            </div>
          </React.Fragment>
        ))}
      </div>

      {/* bottom-right */}
      <div style={abs(1901, 866, { fontFamily: SERIF, fontSize: 62 })}>Normalized</div>
      <Centered x={1728} y={1137} rot style={{ fontFamily: DSERIF, fontSize: 24, color: '#4a4a4a', letterSpacing: 1 }}>Amplitude [ Arb. units]</Centered>
      <Centered x={2274} y={1522} style={{ fontFamily: DSERIF, fontSize: 24, color: '#4a4a4a' }}>Phase [degrees]</Centered>
      <div style={{ position: 'absolute', left: 2455, top: 829, width: 238, height: 177, border: '1px solid #cfcfcf', borderRadius: 3, background: 'rgba(255,255,255,0.9)' }}>
        {nLegend.map((t, i) => (
          <React.Fragment key={i}>
            <div style={{ position: 'absolute', left: 9, top: nRows[i] - 1, width: 48, height: 2, background: nColors[i] }} />
            <div style={abs(70, nRows[i] - 12, { fontFamily: DSERIF, fontSize: 22, color: '#3a3a3a', wordSpacing: 3 })}>
              {'\u0394'}<i>x</i>{' = ' + t + ' mm'}
            </div>
          </React.Fragment>
        ))}
      </div>
    </div>
  );
}
